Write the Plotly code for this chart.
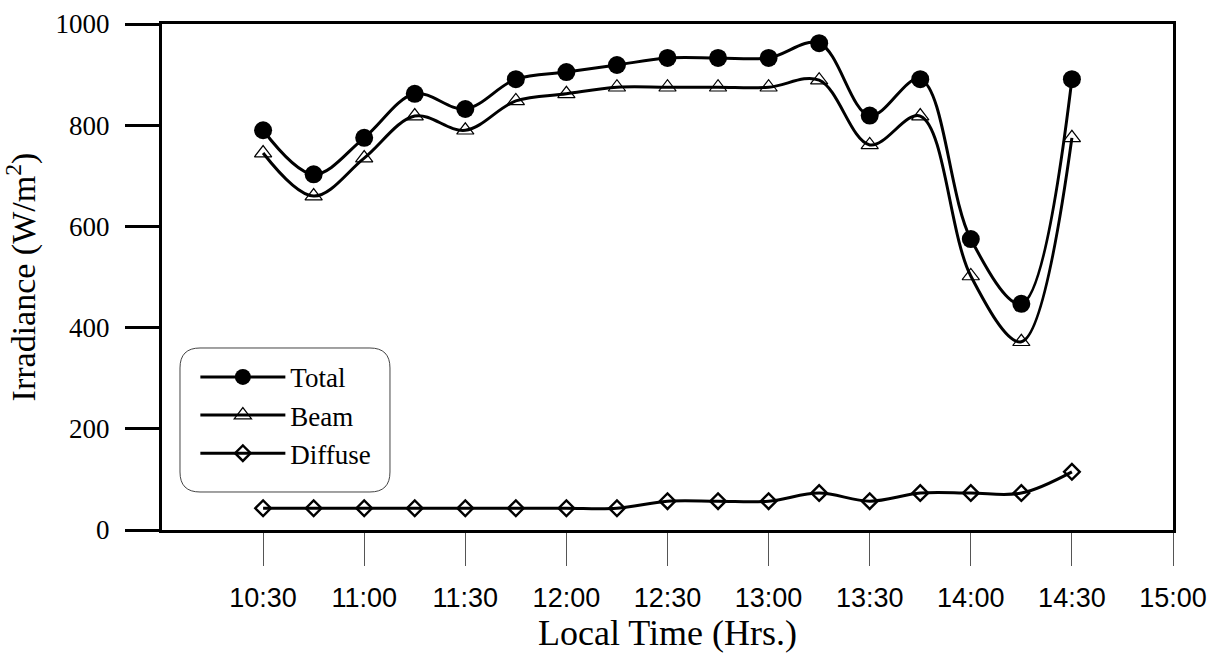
import plotly.graph_objects as go

# time in hours
times = [10.5, 10.75, 11.0, 11.25, 11.5, 11.75, 12.0, 12.25, 12.5, 12.75, 13.0,
         13.25, 13.5, 13.75, 14.0, 14.25, 14.5]
total = [790, 703, 775, 862, 832, 891, 905, 919, 933, 933, 933, 962, 819, 891, 575, 447, 891]
beam = [745, 660, 735, 818, 790, 848, 862, 875, 875, 875, 875, 889, 761, 818, 502, 372, 775]
diffuse = [43, 43, 43, 43, 43, 43, 43, 43, 57, 57, 57, 73, 57, 73, 73, 73, 115]

xtick_vals = [10.5, 11.0, 11.5, 12.0, 12.5, 13.0, 13.5, 14.0, 14.5, 15.0]
xtick_text = ["10:30", "11:00", "11:30", "12:00", "12:30", "13:00", "13:30", "14:00", "14:30", "15:00"]
ytick_vals = [0, 200, 400, 600, 800, 1000]

SERIF = "Liberation Serif, Times New Roman, serif"
SANS = "Liberation Sans, Arial, sans-serif"

fig = go.Figure()
fig.add_trace(go.Scatter(
    x=times, y=total, name="Total", mode="lines+markers",
    line=dict(color="black", width=3, shape="spline", smoothing=1.0),
    marker=dict(symbol="circle", size=18, color="black"),
))
fig.add_trace(go.Scatter(
    x=times, y=beam, name="Beam", mode="lines+markers",
    line=dict(color="black", width=3, shape="spline", smoothing=1.0),
    marker=dict(symbol="triangle-up-open", size=15, color="black", line=dict(width=1.2)),
))
fig.add_trace(go.Scatter(
    x=times, y=diffuse, name="Diffuse", mode="lines+markers",
    line=dict(color="black", width=3, shape="spline", smoothing=1.0),
    marker=dict(symbol="diamond-open", size=12, color="black", line=dict(width=2.4)),
))

# rounded legend box (paper coordinates)
x0, x1, y0, y1 = 0.0178, 0.2255, 0.0751, 0.3597
rx, ry = 0.0198, 0.0395
path = (f"M {x0+rx},{y0} L {x1-rx},{y0} Q {x1},{y0} {x1},{y0+ry} "
        f"L {x1},{y1-ry} Q {x1},{y1} {x1-rx},{y1} L {x0+rx},{y1} "
        f"Q {x0},{y1} {x0},{y1-ry} L {x0},{y0+ry} Q {x0},{y0} {x0+rx},{y0} Z")

fig.update_layout(
    width=1212, height=655,
    margin=dict(l=162, r=39, t=24, b=125, autoexpand=False),
    paper_bgcolor="white", plot_bgcolor="white",
    showlegend=True,
    legend=dict(
        x=0.033, y=0.35, xanchor="left", yanchor="top",
        bgcolor="rgba(0,0,0,0)", borderwidth=0,
        font=dict(family=SERIF, size=27, color="black"),
        itemwidth=85,
    ),
    shapes=[dict(type="path", path=path, xref="paper", yref="paper",
                 line=dict(color="#444", width=1), layer="below")],
    xaxis=dict(
        range=[10, 15], tickvals=xtick_vals, ticktext=xtick_text,
        showgrid=False, zeroline=False, automargin=False,
        showline=True, linecolor="black", linewidth=3, mirror=True,
        ticks="outside", ticklen=33, tickwidth=1, tickcolor="#555",
        tickfont=dict(family=SANS, size=27, color="black"),
        ticklabelstandoff=9,
        title=dict(text="Local Time (Hrs.)", font=dict(family=SERIF, size=36, color="black"),
                   standoff=6),
    ),
    yaxis=dict(
        range=[0, 1000], tickvals=ytick_vals,
        showgrid=False, zeroline=False, automargin=False,
        showline=True, linecolor="black", linewidth=3, mirror=True,
        ticks="outside", ticklen=34, tickwidth=3, tickcolor="black",
        tickfont=dict(family=SERIF, size=27, color="black"),
        ticklabelstandoff=10,
        title=dict(text="Irradiance (W/m<sup>2</sup>)", font=dict(family=SERIF, size=34, color="black"),
                   standoff=10),
    ),
)

fig.write_html("out.html")
